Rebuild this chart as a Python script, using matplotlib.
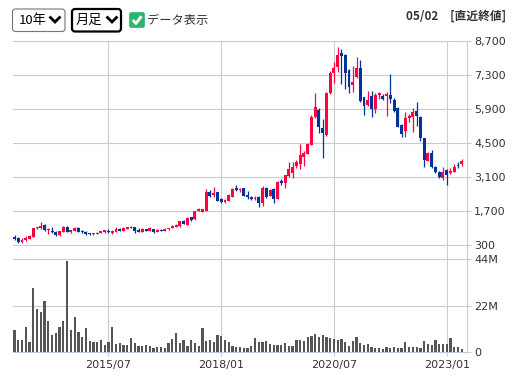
import matplotlib
matplotlib.use("Agg")
import matplotlib.pyplot as plt
from matplotlib.patches import FancyBboxPatch
from matplotlib.lines import Line2D
from matplotlib.transforms import IdentityTransform
import numpy as np
import pandas as pd

# monthly candles, 2013/06 - 2023/05
months = pd.date_range("2013-06-01", periods=120, freq="MS").strftime("%Y/%m").tolist()

open_ = [644, 575, 410, 493, 562, 644, 987, 1015, 1125, 905, 880, 850, 700, 850, 1030, 822, 877, 1000, 880, 850,
         770, 740, 750, 800, 820, 880,
         781, 850, 960, 890, 960, 1040, 1040, 930, 850, 960, 877, 960, 850, 930, 890, 960, 990, 1060, 1083, 1290,
         1125, 1440,
         1360, 1716, 1675, 1716, 2500, 2360, 2470, 2182, 2072, 2113, 2292, 2635, 2567, 2635, 2360, 2265, 2196, 2292,
         2045, 2663, 2320, 2608, 2210, 2938, 2840, 3144, 3281, 3555,
         3638, 3926, 4050, 4421, 5561, 5863, 5108, 4833, 6549, 7373, 7620, 8224, 8128, 7510, 6878, 7208, 7592, 6384,
         6082, 6425, 5917, 6494, 6439, 6453, 6480,
         6274, 5959, 5245, 5011, 5519, 5560, 5821, 5588, 4695, 3776, 4105, 3528, 3309, 3075, 3391, 3254, 3323, 3597,
         3624]
high = [712, 630, 590, 670, 700, 1000, 1060, 1235, 1150, 1015, 1040, 870, 890, 1100, 1070, 920, 1055, 1040, 910, 880,
        790, 810, 830, 890, 920, 960,
        900, 1040, 980, 1055, 1060, 1070, 1050, 1000, 980, 975, 1030, 975, 950, 940, 990, 1010, 1110, 1150, 1300, 1310,
        1470, 1470,
        1720, 1840, 1800, 2594, 2570, 2677, 2500, 2220, 2200, 2380, 2630, 2773, 2650, 2660, 2540, 2300, 2300, 2310,
        2732, 2700, 2600, 2630, 2920, 3020, 3200, 3734, 3734, 3803,
        4462, 4150, 4480, 5643, 6577, 5960, 5478, 6600, 7455, 7826, 8472, 8362, 8170, 7530, 7661, 8045, 7936, 6400,
        6631, 6631, 6549, 6600, 6500, 6618, 7345,
        6343, 6000, 5300, 5766, 5700, 5931, 6206, 5620, 4720, 4110, 4215, 3560, 3330, 3501, 3420, 3460, 3638, 3734,
        3830]
low = [506, 395, 395, 480, 550, 630, 940, 960, 890, 740, 780, 690, 690, 840, 840, 810, 860, 840, 800, 720,
       720, 730, 740, 790, 800, 800,
       750, 840, 860, 880, 950, 980, 810, 840, 840, 860, 870, 810, 840, 880, 880, 930, 980, 1040, 1055, 1150,
       1110, 1290,
       1340, 1700, 1640, 1716, 2265, 2265, 2100, 2045, 2040, 2100, 2280, 2540, 2500, 2320, 2196, 2155, 2150, 1853,
       1920, 2225, 2300, 2018, 2200, 2760, 2663, 3100, 3048, 3460,
       3446, 3542, 4030, 4400, 5540, 4929, 3899, 4800, 6500, 6975, 7414, 6920, 6714, 6563, 6604, 7180, 6200, 5643,
       6013, 5588, 5725, 6300, 6250, 5615, 6165,
       5780, 5150, 4736, 4736, 5350, 4970, 5217, 4600, 3501, 3760, 3460, 3250, 3050, 2979, 2773, 3226, 3300, 3460,
       3556]
close = [534, 410, 520, 603, 672, 987, 1020, 1070, 905, 960, 822, 700, 875, 1030, 850, 905, 1015, 850, 830, 740,
         740, 795, 810, 880, 900, 850,
         877, 960, 877, 1015, 1040, 1000, 877, 850, 960, 877, 987, 850, 930, 890, 960, 990, 1100, 1140, 1290, 1165,
         1427, 1330,
         1700, 1770, 1770, 2470, 2320, 2430, 2113, 2072, 2150, 2360, 2594, 2567, 2620, 2333, 2265, 2196, 2250, 2018,
         2635, 2292, 2567, 2196, 2910, 2840, 3185, 3432, 3528, 3720,
         4009, 4091, 4462, 5561, 5973, 5149, 4902, 6549, 7373, 7593, 8128, 8087, 7373, 6824, 7016, 7592, 6219, 6013,
         6288, 5904, 6494, 6550, 6302, 6508, 6302,
         5835, 5176, 4874, 5519, 5600, 5794, 5629, 4695, 3803, 4078, 3528, 3309, 3117, 3295, 3185, 3364, 3528, 3556,
         3762]
volume = [10.6, 5.8, 5.5, 12.0, 4.9, 30.4, 20.5, 18.8, 24.3, 14.5, 8.2, 9.0, 12.0, 14.5, 43.2, 10.3, 16.7, 9.3, 7.3,
          11.5, 5.4, 4.9, 4.9, 5.5, 3.5, 4.9, 12.0, 3.8, 4.4, 3.5, 3.5, 6.8, 4.4, 2.7, 3.0, 3.5, 3.0, 2.0, 2.2, 2.5,
          2.0, 4.4, 6.3, 9.1, 4.4, 5.5, 3.0, 5.5, 4.4, 3.0, 11.5, 5.0, 5.5, 4.9, 8.2, 7.7, 5.5, 4.9, 3.0, 2.5, 2.2,
          2.0, 2.0, 3.0, 6.8,
          4.7, 4.7, 5.0, 3.6, 3.3, 3.5, 3.2, 4.3, 2.7, 2.7, 5.8, 5.5, 5.0, 6.9, 7.6, 8.7, 7.1, 8.2, 7.1, 6.6, 6.1,
          5.5, 6.1, 4.6, 3.0, 5.0, 7.1, 4.2, 3.5, 3.6, 2.4, 2.0, 1.7, 1.4, 2.2, 1.9, 2.4, 2.0, 1.7, 4.9, 2.5, 2.5,
          2.5, 2.0, 5.4, 3.6, 3.2, 5.8, 3.9, 3.8, 3.6, 6.8, 2.2, 2.2, 1.6]

price_ticks = [300, 1700, 3100, 4500, 5900, 7300, 8700]
vol_ticks = [0, 22, 44]
vol_labels = ["0", "22M", "44M"]
date_ticks = ["2015/07", "2018/01", "2020/07", "2023/01"]

W, H = 518, 378
RED = "#ff0040"
BLUE = "#003399"
GRID = "#cccccc"
TXT = "#333333"
JP = ["Noto Sans CJK JP", "DejaVu Sans"]

fig = plt.figure(figsize=(W / 100, H / 100), dpi=100)


def frac(x0, y0, x1, y1):
    # pixel box (top-left origin) -> figure fraction rect
    return [x0 / W, 1 - y1 / H, (x1 - x0) / W, (y1 - y0) / H]


ax = fig.add_axes(frac(13, 41, 467, 259))
axv = fig.add_axes(frac(13, 259, 467, 352))

x = np.arange(len(close))
o = np.array(open_, float)
c = np.array(close, float)
cols = [RED if cc >= oo else BLUE for oo, cc in zip(o, c)]
body_lo = np.minimum(o, c)
body_h = np.maximum(np.abs(c - o), 45)

ax.vlines(x, low, high, colors=cols, linewidth=0.9, zorder=3)
ax.bar(x, body_h, bottom=body_lo, width=0.78, color=cols, linewidth=0, zorder=4)

tick_idx = [months.index(d) for d in date_ticks]
xlim = (-0.4, 120.4)

ax.set_xlim(*xlim)
ax.set_ylim(300 - 14 * 41.18, 8700)
ax.set_yticks(price_ticks)
ax.set_yticklabels([f"{v:,}" for v in price_ticks])
ax.set_xticks(tick_idx)
ax.yaxis.tick_right()
ax.tick_params(axis="x", length=0, labelbottom=False)
ax.tick_params(axis="y", length=3, width=0.8, color=GRID, labelsize=8, labelcolor=TXT, pad=2)
ax.grid(True, color=GRID, linewidth=0.8, zorder=0)
ax.set_axisbelow(True)
for s in ["left", "bottom"]:
    ax.spines[s].set_visible(False)
for s in ["top", "right"]:
    ax.spines[s].set_color(GRID)
    ax.spines[s].set_linewidth(0.8)

axv.bar(x, volume, width=0.6, color="#555555", linewidth=0, zorder=3)
axv.set_xlim(*xlim)
axv.set_ylim(0, 44)
axv.set_yticks(vol_ticks)
axv.set_yticklabels(vol_labels)
axv.set_xticks(tick_idx)
axv.set_xticklabels(date_ticks)
axv.yaxis.tick_right()
axv.tick_params(axis="y", length=3, width=0.8, color=GRID, labelsize=8, labelcolor=TXT, pad=2)
axv.tick_params(axis="x", length=3, width=0.8, color=GRID, labelsize=8, labelcolor=TXT, pad=3)
axv.grid(True, color=GRID, linewidth=0.8, zorder=0)
axv.set_axisbelow(True)
axv.spines["left"].set_visible(False)
axv.spines["top"].set_color(GRID)
axv.spines["right"].set_color(GRID)
axv.spines["bottom"].set_color("#b8c8e0")
for s in ["top", "right", "bottom"]:
    axv.spines[s].set_linewidth(0.8)

# header controls (pixel coords, y measured from the top)
px = IdentityTransform()


def box(x0, y0, w, h, ec, lw, fc="white", r=3):
    fig.add_artist(FancyBboxPatch((x0, H - y0 - h), w, h, boxstyle=f"round,pad=0,rounding_size={r}",
                                  transform=px, ec=ec, fc=fc, lw=lw))


def chevron(xc, yc, color="black"):
    fig.add_artist(Line2D([xc - 4.5, xc, xc + 4.5], [H - yc + 2.5, H - yc - 2, H - yc + 2.5],
                          transform=px, color=color, lw=2.0, solid_joinstyle="miter"))


box(12.5, 9, 52.5, 22.5, "#767676", 0.8)
box(72, 9, 49, 22.5, "black", 1.6)
chevron(55, 20)
chevron(112, 20)
fig.text(18.5 / W, 1 - 20.5 / H, "10年", family=JP, fontsize=9.5, color="black", va="center")
fig.text(76 / W, 1 - 20.5 / H, "月足", family=JP, fontsize=9.5, color="black", va="center")

box(129.5, 12.5, 15, 15, "#2db46e", 0.5, fc="#2db46e", r=2)
fig.add_artist(Line2D([132.8, 136, 141.5], [H - 20, H - 23.5, H - 16.2], transform=px,
                      color="white", lw=2.0, solid_capstyle="butt"))
fig.text(147.5 / W, 1 - 20.5 / H, "データ表示", family=JP, fontsize=8.8, color=TXT, va="center")

fig.text(506 / W, 1 - 16.5 / H, "05/02\u3000[直近終値]", family=JP, fontsize=8.5, fontweight="bold",
         color=TXT, ha="right", va="center")

fig.savefig("out.png", dpi=100)
